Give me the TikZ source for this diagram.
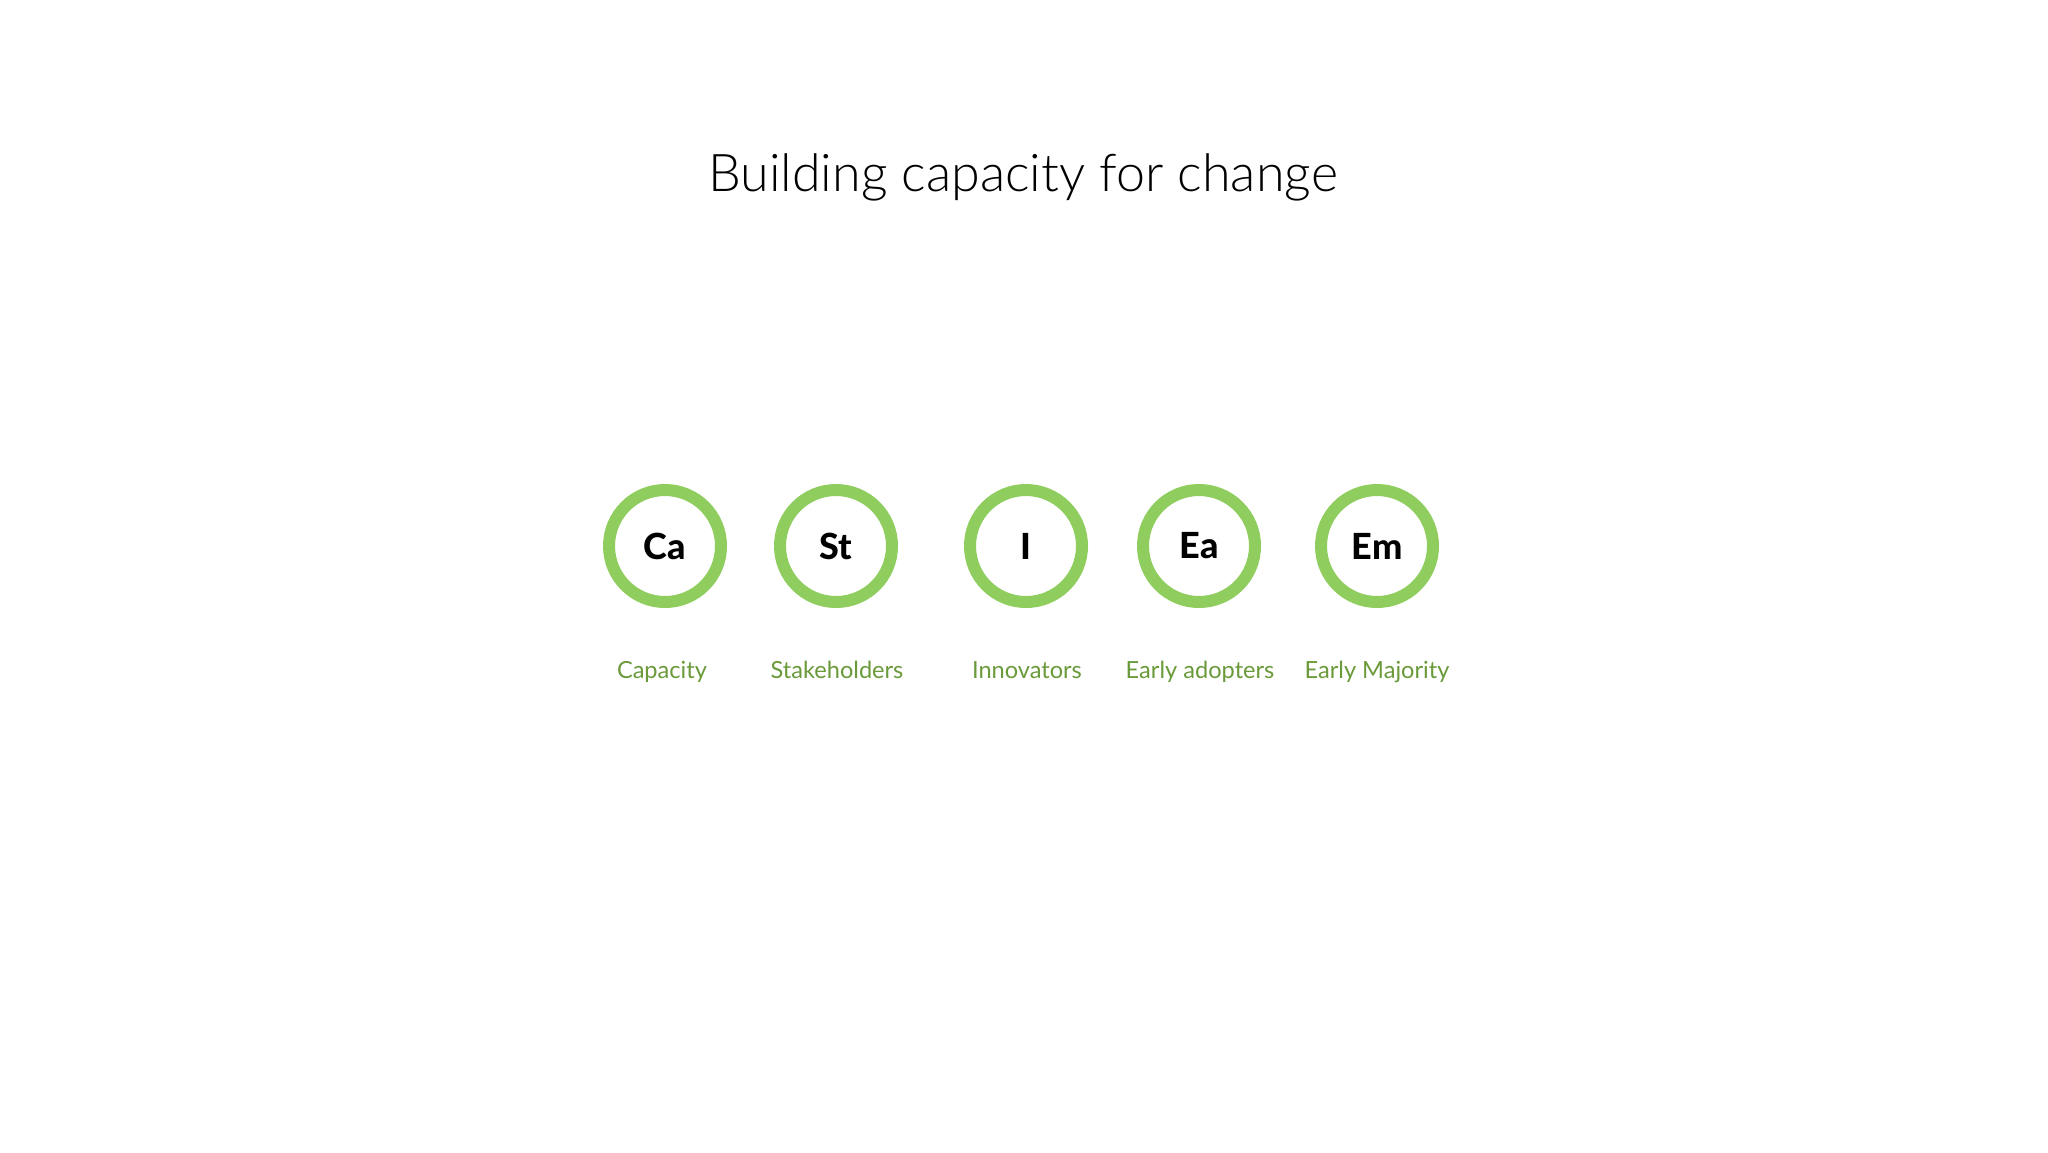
\documentclass[tikz,border=0pt]{standalone}
\usepackage{fontspec}
\setmainfont{Lato}
\newfontfamily\heavyfont{Lato Heavy}
\definecolor{ring}{HTML}{8FCE5E}
\definecolor{lbl}{HTML}{6A9A3A}
\begin{document}
\begin{tikzpicture}[x=0.5pt,y=-0.5pt,
  badge/.style={circle,draw=ring,line width=6pt,minimum size=56pt,inner sep=0pt,font=\fontsize{18}{21}\selectfont\heavyfont,text=black},
  lab/.style={anchor=base,text=lbl,font=\fontsize{11.8}{14}\selectfont,inner sep=0pt},
  ttl/.style={anchor=base,font=\fontsize{26}{30}\selectfont,inner sep=0pt}]
\useasboundingbox (0,0) rectangle (2048,1152);
\fill[white] (0,0) rectangle (2048,1152);
\node[ttl] (title) at (1023,191) {\fontspec{Lato Light}Building capacity for change};
\node[badge] (ca) at (665,546) {Ca};
\node[badge] (st) at (836,546) {St};
\node[badge] (in) at (1026,546) {I};
\node[badge] (ea) at (1199,546) {Ea};
\node[badge] (em) at (1377,546) {Em};
\node[lab] (lca) at (662,678) {Capacity};
\node[lab] (lst) at (837,678) {Stakeholders};
\node[lab] (lin) at (1027,678) {Innovators};
\node[lab] (lea) at (1200,678) {Early adopters};
\node[lab] (lem) at (1377,678) {Early Majority};
\end{tikzpicture}
\end{document}
